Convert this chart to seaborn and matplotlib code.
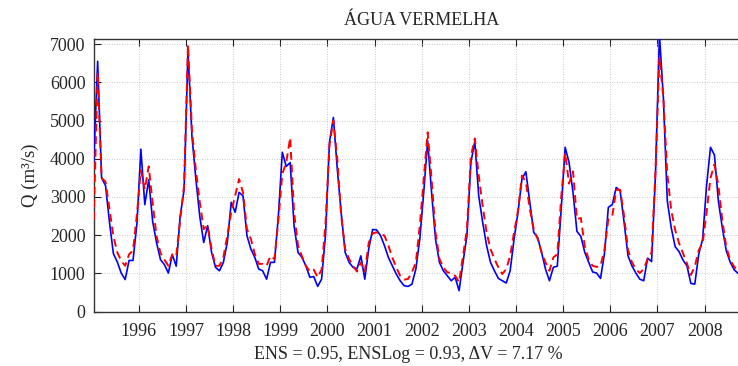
import numpy as np
import pandas as pd
import matplotlib
matplotlib.use("Agg")
import matplotlib.pyplot as plt
import seaborn as sns

# ---- data (monthly, Jan 1995 - Sep 2008) ----
start_year = 1995
observed = [
    3900, 6550, 3500, 3300, 2350, 1520, 1300, 1010, 840, 1340, 1340, 2300,   # 1995
    4250, 2800, 3450, 2360, 1800, 1360, 1230, 1010, 1490, 1190, 2490, 3190,  # 1996
    6810, 4590, 3470, 2490, 1810, 2250, 1550, 1160, 1070, 1290, 1810, 2860,  # 1997
    2600, 3120, 3030, 1990, 1640, 1420, 1115, 1070, 850, 1290, 1290, 2500,   # 1998
    4170, 3800, 3900, 2250, 1550, 1420, 1200, 900, 920, 660, 850, 2000,      # 1999
    4430, 5080, 3730, 2580, 1550, 1290, 1160, 1115, 1460, 850, 1640, 2150,   # 2000
    2140, 1990, 1730, 1420, 1200, 985, 810, 680, 660, 720, 1115, 1900,       # 2001
    3120, 4470, 3120, 1900, 1290, 1070, 940, 810, 900, 550, 1290, 1990,      # 2002
    3900, 4450, 3030, 2340, 1730, 1290, 1070, 870, 810, 750, 1070, 1900,     # 2003
    2600, 3470, 3660, 2860, 2075, 1940, 1550, 1115, 810, 1160, 1190, 2690,   # 2004
    4300, 3900, 3120, 2100, 1970, 1550, 1290, 1040, 1010, 870, 1510, 2730,   # 2005
    2800, 3250, 3160, 2340, 1460, 1200, 1010, 850, 810, 1400, 1310, 3600,    # 2006
    7250, 5600, 2900, 2200, 1700, 1570, 1350, 1200, 740, 720, 1500, 1900,    # 2007
    3300, 4300, 4100, 2900, 2200, 1600, 1300, 1100, 1000,                    # 2008
]
simulated = [
    2400, 6250, 3500, 3400, 2700, 1980, 1550, 1330, 1200, 1500, 1600, 2550,  # 1995
    3700, 3200, 3800, 2840, 1970, 1530, 1360, 1200, 1500, 1450, 2400, 3300,  # 1996
    6980, 4760, 3700, 2860, 2160, 2250, 1640, 1200, 1200, 1420, 1990, 2600,  # 1997
    3030, 3470, 3120, 2160, 1900, 1510, 1250, 1250, 1200, 1460, 1380, 2400,  # 1998
    3600, 3900, 4550, 2600, 1730, 1450, 1200, 1050, 1100, 900, 1100, 2300,   # 1999
    4340, 5000, 4000, 2500, 1640, 1380, 1200, 1050, 1290, 1050, 1800, 2050,  # 2000
    2075, 2030, 1990, 1730, 1420, 1160, 940, 840, 855, 1030, 1290, 2250,     # 2001
    3470, 4690, 3470, 2075, 1380, 1160, 1030, 1010, 940, 770, 1460, 2160,    # 2002
    4060, 4530, 3560, 2770, 2075, 1640, 1380, 1160, 985, 1115, 1460, 2075,   # 2003
    2640, 3560, 3390, 2690, 2160, 1900, 1550, 1290, 1070, 1420, 1500, 3000,  # 2004
    4150, 3350, 3670, 2420, 2450, 1710, 1360, 1200, 1170, 1200, 1620, 2420,  # 2005
    2500, 3190, 3190, 2500, 1620, 1290, 1115, 1010, 1115, 1380, 1550, 3700,  # 2006
    6650, 5600, 3600, 2660, 2140, 1790, 1530, 1260, 960, 1180, 1610, 1790,   # 2007
    2600, 3500, 3850, 3300, 2400, 1700, 1350, 1180, 1050,                    # 2008
]
year_ticks = list(range(1996, 2009))
y_ticks = [0, 1000, 2000, 3000, 4000, 5000, 6000, 7000]
title = "ÁGUA VERMELHA"
xlabel = "ENS = 0.95, ENSLog = 0.93, \u0394V = 7.17 %"
ylabel = "Q (m\u00b3/s)"

n = len(observed)
t = start_year + (np.arange(n) + 0.5) / 12.0
df = pd.DataFrame({"t": t, "obs": observed, "sim": simulated})

sns.set_style("white")
plt.rcParams["font.family"] = ["Liberation Serif", "DejaVu Serif"]
plt.rcParams["mathtext.fontset"] = "stix"

fig = plt.figure(figsize=(7.38, 3.66), dpi=100)
ax = fig.add_axes([0.127, 0.1484, 0.873, 0.7459])

sns.lineplot(data=df, x="t", y="obs", ax=ax, color="#0000ff", lw=1.2, zorder=3)
sns.lineplot(data=df, x="t", y="sim", ax=ax, color="#ff0000", lw=1.4,
             linestyle=(0, (4, 2.5)), zorder=4)

ax.set_xlim(t[0], t[-1])
ax.set_ylim(0, 7140)
ax.set_xticks(year_ticks)
ax.set_xticklabels([str(y) for y in year_ticks])
ax.set_yticks(y_ticks)
ax.tick_params(axis="both", direction="in", length=5, width=0.8, color="#222222",
               labelsize=13, top=True, right=False, bottom=True, left=True)
ax.tick_params(axis="x", pad=8)
ax.tick_params(axis="y", pad=6)
ax.grid(True, linestyle=(0, (1, 2)), color="#b8b8b8", lw=0.6)
for s in ax.spines.values():
    s.set_color("#333333")
    s.set_linewidth(1.0)
ax.spines["right"].set_visible(False)

ax.set_title(title, fontsize=13, pad=10, x=0.509)
ax.set_xlabel(xlabel, fontsize=13)
ax.xaxis.set_label_coords(0.4876, -0.125)
ax.set_ylabel(ylabel, fontsize=13.5, labelpad=8)

fig.savefig("out.png", dpi=100)
